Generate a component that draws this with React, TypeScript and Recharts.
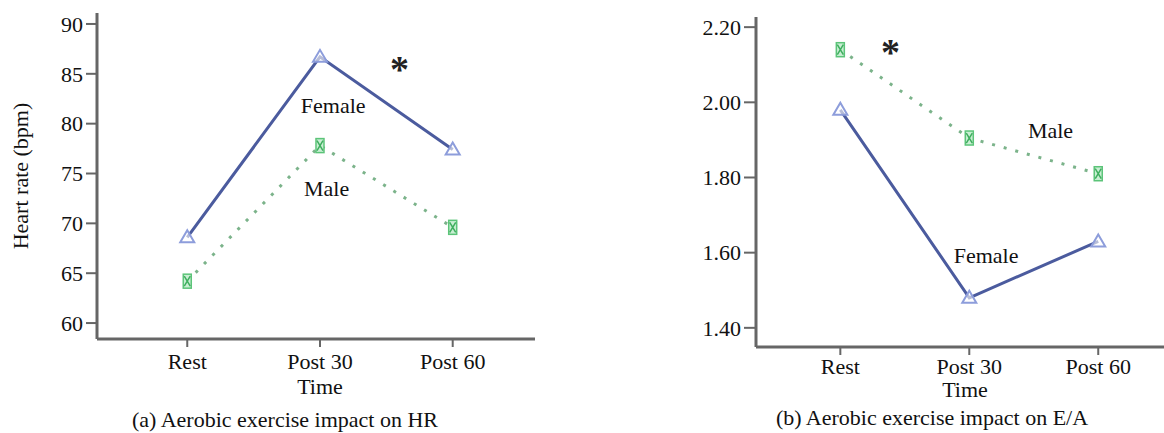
import React from 'react';
import { LineChart, Line, XAxis, YAxis, ReferenceDot, Label } from 'recharts';

const categories = ['Rest', 'Post 30', 'Post 60'];
const hrFemale = [68.6, 86.7, 77.4];
const hrMale = [64.2, 77.8, 69.6];
const eaFemale = [1.98, 1.48, 1.63];
const eaMale = [2.14, 1.905, 1.81];
const hrTicks = [60, 65, 70, 75, 80, 85, 90];
const eaTicks = [1.4, 1.6, 1.8, 2.0, 2.2];

const hrData = categories.map((c, i) => ({ x: i, name: c, female: hrFemale[i], male: hrMale[i] }));
const eaData = categories.map((c, i) => ({ x: i, name: c, female: eaFemale[i], male: eaMale[i] }));

const FONT = '"Liberation Serif", "Times New Roman", serif';
const FS = 22;
const AXIS = '#666';
const FEMALE = '#4b5b9e';
const MALE = '#7bb38a';

const TriDot = (props: any) => {
  const { cx, cy, index } = props;
  if (cx == null || cy == null) return null;
  const w = 7, h = 5;
  return (
    <polygon
      key={`t-${index}`}
      points={`${cx - w},${cy + h} ${cx + w},${cy + h} ${cx},${cy - h - 2}`}
      fill="#ffffff"
      fillOpacity={0.6}
      stroke="#8d9ddb"
      strokeWidth={2}
    />
  );
};

const HourDot = (props: any) => {
  const { cx, cy, index } = props;
  if (cx == null || cy == null) return null;
  return (
    <g key={`h-${index}`}>
      <rect x={cx - 4} y={cy - 7} width={8} height={14} fill="#c9efd3" stroke="#5cc479" strokeWidth={1.5} />
      <path d={`M${cx - 3},${cy - 5} L${cx + 3},${cy + 5} M${cx + 3},${cy - 5} L${cx - 3},${cy + 5}`} stroke="#3fae5f" strokeWidth={1.5} />
    </g>
  );
};

const tickStyle = { fontSize: FS, fill: '#111', fontFamily: FONT };
const labelStyle = { fontSize: FS, fill: '#111', fontFamily: FONT };
const starStyle = { fontSize: 38, fontWeight: 'bold', fill: '#222', fontFamily: FONT };

export default function App() {
  return (
    <div style={{ position: 'absolute', left: 0, top: 0, width: 1164, height: 433, background: '#fff' }}>
      <div style={{ position: 'absolute', left: 0, top: 0 }}>
        <LineChart width={560} height={433} data={hrData} margin={{ top: 13, right: 25, bottom: 0, left: 0 }}>
          <XAxis
            type="number"
            dataKey="x"
            domain={[-0.68, 2.62]}
            ticks={[0, 1, 2]}
            tickFormatter={(v: number) => categories[v]}
            interval={0}
            height={94}
            tickSize={8}
            tickMargin={6}
            axisLine={{ stroke: AXIS, strokeWidth: 3 }}
            tickLine={{ stroke: AXIS, strokeWidth: 2 }}
            tick={tickStyle}
            allowDataOverflow
          >
            <Label value="Time" position="insideTop" offset={39} dx={4} {...labelStyle} />
            <Label value="(a) Aerobic exercise impact on HR" position="insideBottom" offset={6} dx={-31} {...labelStyle} />
          </XAxis>
          <YAxis
            type="number"
            domain={[58.4, 91.1]}
            ticks={hrTicks}
            interval={0}
            width={97}
            tickSize={11}
            tickMargin={3}
            axisLine={{ stroke: AXIS, strokeWidth: 3 }}
            tickLine={{ stroke: AXIS, strokeWidth: 2 }}
            tick={tickStyle}
            allowDataOverflow
          >
            <Label value="Heart rate (bpm)" angle={-90} position="insideLeft" offset={20} style={{ textAnchor: 'middle' }} {...labelStyle} />
          </YAxis>
          <Line dataKey="male" stroke={MALE} strokeWidth={3} strokeDasharray="3 9" dot={HourDot} activeDot={false} isAnimationActive={false} />
          <Line dataKey="female" stroke={FEMALE} strokeWidth={3} dot={TriDot} activeDot={false} isAnimationActive={false} />
          <ReferenceDot x={1.1} y={81.9} r={0} fill="none" stroke="none" ifOverflow="visible" label={{ value: 'Female', position: 'center', ...labelStyle }} />
          <ReferenceDot x={1.05} y={73.5} r={0} fill="none" stroke="none" ifOverflow="visible" label={{ value: 'Male', position: 'center', ...labelStyle }} />
          <ReferenceDot x={1.6} y={85.5} r={0} fill="none" stroke="none" ifOverflow="visible" label={{ value: '*', position: 'center', ...starStyle }} />
        </LineChart>
      </div>
      <div style={{ position: 'absolute', left: 580, top: 0 }}>
        <LineChart width={584} height={433} data={eaData} margin={{ top: 17, right: 0, bottom: 0, left: 0 }}>
          <XAxis
            type="number"
            dataKey="x"
            domain={[-0.654, 2.51]}
            ticks={[0, 1, 2]}
            tickFormatter={(v: number) => categories[v]}
            interval={0}
            height={86}
            tickSize={8}
            tickMargin={3}
            axisLine={{ stroke: AXIS, strokeWidth: 3 }}
            tickLine={{ stroke: AXIS, strokeWidth: 2 }}
            tick={tickStyle}
            allowDataOverflow
          >
            <Label value="Time" position="insideTop" offset={34} dx={5} {...labelStyle} />
            <Label value="(b) Aerobic exercise impact on E/A" position="insideBottom" offset={8} dx={-28} {...labelStyle} />
          </XAxis>
          <YAxis
            type="number"
            domain={[1.349, 2.227]}
            ticks={eaTicks}
            interval={0}
            width={176}
            tickSize={12}
            tickMargin={3}
            tickFormatter={(v: number) => v.toFixed(2)}
            axisLine={{ stroke: AXIS, strokeWidth: 3 }}
            tickLine={{ stroke: AXIS, strokeWidth: 2 }}
            tick={tickStyle}
            allowDataOverflow
          />
          <Line dataKey="male" stroke={MALE} strokeWidth={3} strokeDasharray="3 9" dot={HourDot} activeDot={false} isAnimationActive={false} />
          <Line dataKey="female" stroke={FEMALE} strokeWidth={3} dot={TriDot} activeDot={false} isAnimationActive={false} />
          <ReferenceDot x={1.63} y={1.926} r={0} fill="none" stroke="none" ifOverflow="visible" label={{ value: 'Male', position: 'center', ...labelStyle }} />
          <ReferenceDot x={1.13} y={1.594} r={0} fill="none" stroke="none" ifOverflow="visible" label={{ value: 'Female', position: 'center', ...labelStyle }} />
          <ReferenceDot x={0.39} y={2.135} r={0} fill="none" stroke="none" ifOverflow="visible" label={{ value: '*', position: 'center', ...starStyle }} />
        </LineChart>
      </div>
    </div>
  );
}
